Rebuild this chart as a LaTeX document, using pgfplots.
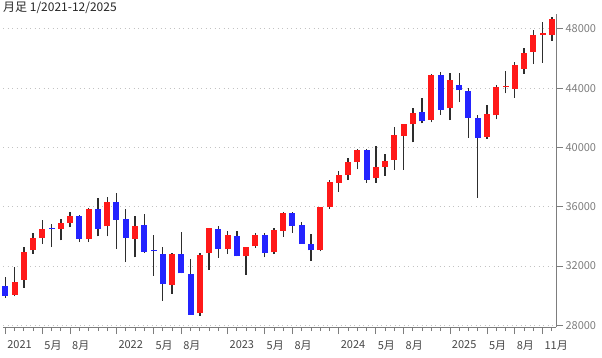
\documentclass[border=0pt]{standalone}
\usepackage{fontspec}
\setmainfont{Noto Sans CJK JP}
\usepackage{pgfplots}
\pgfplotsset{compat=1.18}
\usepackage{pgfplotstable}
\definecolor{up}{RGB}{255,25,25}
\definecolor{dn}{RGB}{35,35,255}
\definecolor{wick}{RGB}{45,45,45}
\definecolor{axg}{RGB}{125,125,125}
\definecolor{grd}{RGB}{195,195,195}
\definecolor{lbl}{RGB}{70,70,70}

\pgfplotstableread{
i o h l c
0 30627 31272 29857 29983
1 30054 31962 29960 30932
2 31065 33259 30548 32982
3 33054 34257 32828 33875
4 33904 35092 33473 34529
5 34584 34849 33272 34503
6 34507 35171 33741 34935
7 34935 35631 34611 35361
8 35361 35445 33614 33844
9 33820 35893 33613 35820
10 35834 36566 34006 34484
11 34679 36679 34007 36338
12 36322 36953 33150 35132
13 35148 35824 32272 33893
14 33824 35372 32578 34678
15 34740 35493 32914 32977
16 33062 34118 31353 32990
17 32814 33273 29653 30775
18 30737 32910 30144 32845
19 32798 34282 31510 31510
20 31454 32504 28715 28726
21 28856 32889 28661 32733
22 32879 34590 31727 34590
23 34523 34712 32573 33147
24 33148 34342 32813 34086
25 34039 34335 32654 32657
26 32658 33278 31430 33274
27 33328 34257 33236 34098
28 34115 34258 32586 32908
29 32918 34589 32813 34408
30 34368 35679 33983 35560
31 35595 35679 34255 34722
32 34758 34979 33516 33508
33 33466 34143 32327 33053
34 33093 35954 32997 35951
35 35953 37779 35833 37690
36 37595 38387 37012 38150
37 38136 39283 37793 38996
38 39049 39890 38520 39807
39 39817 39889 37612 37816
40 37914 40077 37611 38686
41 38676 39584 38080 39119
42 39168 41376 38499 40843
43 40803 41586 38499 41563
44 41557 42628 40334 42330
45 42397 43325 41617 41763
46 41858 44972 41686 44911
47 44869 45074 42201 42544
48 42659 45054 41844 44545
49 44196 45034 43049 43841
50 43830 44033 40662 42002
51 41956 42196 36612 40669
52 40709 42842 40572 42270
53 42164 44211 41891 44095
54 44055 45152 43645 44131
55 43973 45757 43340 45545
56 45296 46714 44982 46398
57 46421 47944 45617 47563
58 47580 48431 45728 47716
59 47600 48780 47190 48650
}\dow

\begin{document}
\begin{tikzpicture}[x=1pt,y=1pt]
\begin{axis}[
  name=ax, at={(0,0)}, anchor=south west,
  scale only axis, width=553pt, height=313pt,
  xmin=-0.25, xmax=59.45, ymin=27890, ymax=49000,
  axis x line*=bottom, axis y line*=right,
  axis line style={draw=axg, line width=0.8pt},
  ytick={28000,32000,36000,40000,44000,48000},
  yticklabel pos=right,
  scaled y ticks=false,
  /pgf/number format/assume math mode=true,
  yticklabel style={/pgf/number format/fixed, /pgf/number format/1000 sep={}, text=axg, font=\fontsize{11}{13}\selectfont, xshift=-1pt},
  ymajorgrids,
  grid style={draw=grd, line width=0.8pt, dash pattern=on 1pt off 3.5pt},
  xtick={0,4,7,12,16,19,24,28,31,36,40,43,48,52,55,58},
  xticklabels={2021,5月,8月,2022,5月,8月,2023,5月,8月,2024,5月,8月,2025,5月,8月,11月},
  minor xtick={0,...,59},
  xticklabel style={anchor=north west, xshift=-1.5pt, yshift=-3pt, text=lbl, font=\fontsize{11}{13}\selectfont},
  tick align=outside,
  major tick length=7pt, minor tick length=4pt,
  ytick style={draw=axg, line width=0.8pt},
  xtick style={draw=axg, line width=0.8pt},
  every minor tick/.style={draw=axg, line width=0.8pt},
  clip=false,
]
% wicks
\addplot[draw=none, mark=none, forget plot,
  error bars/.cd, y dir=plus, y explicit, error mark=none,
  error bar style={line width=1.4pt, draw=wick}]
  table[x=i, y=l, y error expr=\thisrow{h}-\thisrow{l}] {\dow};
% up bodies
\addplot[draw=none, mark=none, forget plot,
  x filter/.expression={\thisrow{c}>=\thisrow{o} ? x : nan},
  error bars/.cd, y dir=plus, y explicit, error mark=none,
  error bar style={line width=6pt, draw=up}]
  table[x=i, y=o, y error expr={max(\thisrow{c}-\thisrow{o},80)}] {\dow};
% down bodies
\addplot[draw=none, mark=none, forget plot,
  x filter/.expression={\thisrow{c}<\thisrow{o} ? x : nan},
  error bars/.cd, y dir=plus, y explicit, error mark=none,
  error bar style={line width=6pt, draw=dn}]
  table[x=i, y=c, y error expr={max(\thisrow{o}-\thisrow{c},80)}] {\dow};
\end{axis}
\node[anchor=base west, inner sep=0pt, text=black!85, font=\fontsize{12}{14}\selectfont] at (0pt,315pt) {月足 1/2021-12/2025};
\pgfresetboundingbox
\path[use as bounding box] (-3pt,-30pt) rectangle (599pt,327pt);
\end{tikzpicture}
\end{document}
